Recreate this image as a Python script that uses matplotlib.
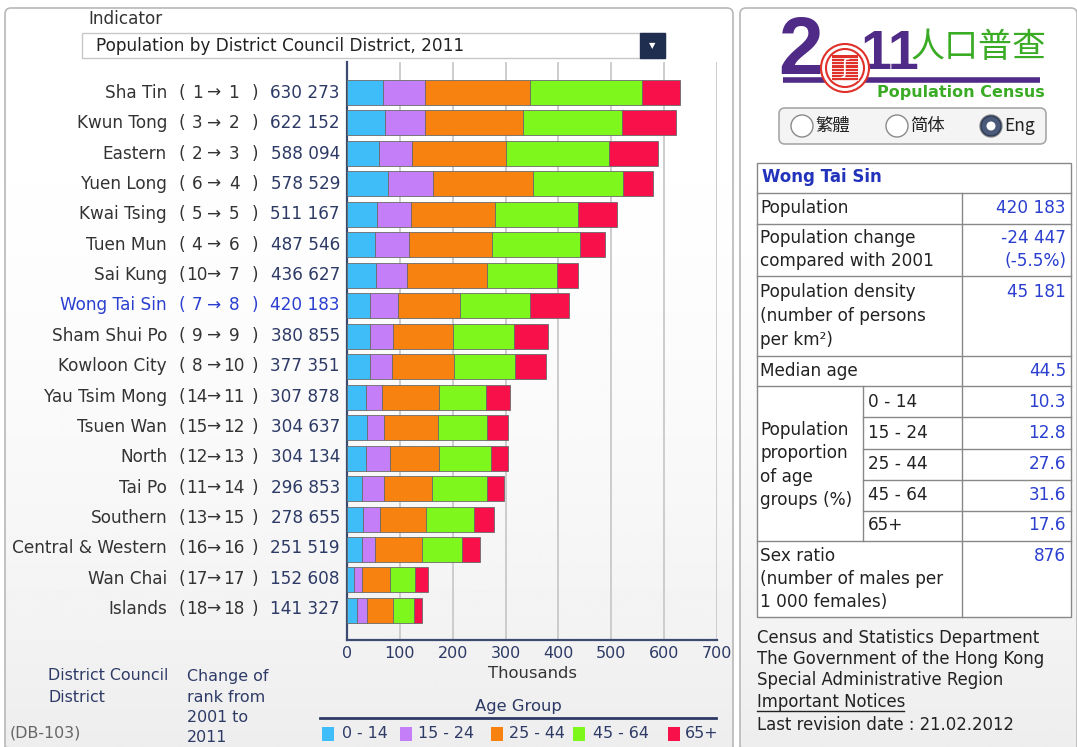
import numpy as np
import matplotlib.pyplot as plt
from matplotlib.patches import FancyBboxPatch, Rectangle, Circle

# chart data (age group values in thousands)
districts = ["Sha Tin", "Kwun Tong", "Eastern", "Yuen Long", "Kwai Tsing", "Tuen Mun",
             "Sai Kung", "Wong Tai Sin", "Sham Shui Po", "Kowloon City", "Yau Tsim Mong",
             "Tsuen Wan", "North", "Tai Po", "Southern", "Central & Western", "Wan Chai", "Islands"]
rank_2001 = [1, 3, 2, 6, 5, 4, 10, 7, 9, 8, 14, 15, 12, 11, 13, 16, 17, 18]
rank_2011 = [1, 2, 3, 4, 5, 6, 7, 8, 9, 10, 11, 12, 13, 14, 15, 16, 17, 18]
population = [630273, 622152, 588094, 578529, 511167, 487546, 436627, 420183, 380855,
              377351, 307878, 304637, 304134, 296853, 278655, 251519, 152608, 141327]
age_0_14 = [67.5, 72.0, 60.6, 77.0, 56.3, 52.5, 54.4, 43.3, 42.6, 42.6, 36.2, 37.5, 36.2, 28.1, 29.5, 28.1, 13.7, 18.8]
age_15_24 = [79.5, 75.0, 63.2, 85.0, 65.7, 65.1, 58.2, 53.8, 43.7, 41.8, 29.5, 33.2, 45.0, 42.6, 33.0, 25.0, 14.4, 18.7]
age_25_44 = [199.5, 186.5, 177.5, 189.7, 158.0, 157.2, 152.0, 116.0, 113.8, 118.9, 108.0, 100.8, 93.6, 91.0, 87.7, 88.3, 52.6, 48.7]
age_45_64 = [211.5, 186.5, 194.3, 171.1, 156.2, 165.4, 133.2, 132.8, 115.0, 114.6, 89.9, 93.8, 97.4, 102.8, 90.4, 75.5, 47.5, 41.4]
age_65_plus = [72.0, 102.0, 92.5, 55.7, 75.0, 47.4, 38.8, 74.0, 65.7, 59.5, 44.3, 39.3, 31.9, 32.4, 38.1, 34.6, 24.4, 13.7]
age_groups = ["0 - 14", "15 - 24", "25 - 44", "45 - 64", "65+"]
colors = ["#3fbdf8", "#c47ef8", "#f8820f", "#7ef81c", "#f8104a"]
x_ticks = [0, 100, 200, 300, 400, 500, 600, 700]

# side panel data (selected district)
selected = "Wong Tai Sin"
sel_population = "420 183"
sel_change = "-24 447"
sel_change_pct = "(-5.5%)"
sel_density = "45 181"
sel_median_age = "44.5"
sel_proportions = ["10.3", "12.8", "27.6", "31.6", "17.6"]
sel_sex_ratio = "876"

TXT = "#333333"
NAVY = "#2d3a66"
BLUE = "#2a3fd0"
FS = 12.2
CJK = ["Noto Sans CJK TC", "DejaVu Sans"]
NARROW = ["Liberation Sans Narrow", "Liberation Sans", "DejaVu Sans"]

fig = plt.figure(figsize=(10.77, 7.47), dpi=100)
bg = fig.add_axes([0, 0, 1, 1])
bg.set_xlim(0, 1077)
bg.set_ylim(747, 0)
bg.axis("off")

# panels with soft gradient
grad = np.linspace(0, 1, 256).reshape(-1, 1)
for x0, x1 in [(5, 733), (740, 1077)]:
    panel = FancyBboxPatch((x0, 8), x1 - x0, 745, boxstyle="round,pad=0,rounding_size=6",
                           fc="none", ec="#b8b8b8", lw=1.2, zorder=2)
    bg.add_patch(panel)
    im = bg.imshow(1 - 0.07 * grad ** 2, cmap="gray", vmin=0, vmax=1, aspect="auto",
                   extent=(x0, x1, 753, 8), zorder=1)
    im.set_clip_path(panel)

# indicator dropdown
bg.text(88, 19, "Indicator", fontsize=FS, color=TXT, va="center")
bg.add_patch(Rectangle((82, 33), 583, 25, fc="white", ec="#c8c8c8", lw=1, zorder=3))
bg.add_patch(Rectangle((640, 33), 25, 25, fc="#1f2d4f", ec="#1f2d4f", zorder=4))
bg.text(652.5, 45.5, "▼", fontsize=6, color="white", ha="center", va="center", zorder=5)
bg.text(96, 46, "Population by District Council District, 2011", fontsize=FS,
        color="#222222", va="center", zorder=5)

# bar chart
ax = fig.add_axes([347 / 1077, 1 - 640 / 747, 370 / 1077, 578 / 747])
ax.set_facecolor("none")
y = np.arange(len(districts))
left = np.zeros(len(districts))
for vals, c in zip([age_0_14, age_15_24, age_25_44, age_45_64, age_65_plus], colors):
    ax.barh(y, vals, left=left, height=0.82, color=c, edgecolor="#6a6a6a", linewidth=0.6, zorder=3)
    left += np.array(vals)
ax.set_xlim(0, 700)
ax.set_ylim(17.97, -1.0)
ax.set_xticks(x_ticks)
ax.set_yticks([])
ax.grid(axis="x", color="#c9c9c9", lw=1.3, zorder=0)
ax.tick_params(axis="x", length=0, labelsize=11.5, labelcolor=NAVY, pad=4)
for s in ["top", "right"]:
    ax.spines[s].set_visible(False)
for s in ["left", "bottom"]:
    ax.spines[s].set_color("#3a4a70")
    ax.spines[s].set_linewidth(1.6)
ax.set_xlabel("Thousands", fontsize=11.8, color=TXT, labelpad=4)

# row labels
row_y = 93 + np.arange(len(districts)) * 30.35
for i, name in enumerate(districts):
    c = BLUE if name == selected else TXT
    yy = row_y[i]
    bg.text(167, yy, name, fontsize=FS, color=c, ha="right", va="center")
    bg.text(182, yy, "(", fontsize=FS, color=c, ha="center", va="center")
    bg.text(197, yy, str(rank_2001[i]), fontsize=FS, color=c, ha="center", va="center")
    bg.text(214, yy, "→", fontsize=FS, color=c, ha="center", va="center")
    bg.text(234, yy, str(rank_2011[i]), fontsize=FS, color=c, ha="center", va="center")
    bg.text(255, yy, ")", fontsize=FS, color=c, ha="center", va="center")
    bg.text(340, yy, f"{population[i]:,}".replace(",", " "), fontsize=FS,
            color=BLUE if name == selected else NAVY, ha="right", va="center")

# bottom left captions
for yy, t in zip([676, 697], ["District Council", "District"]):
    bg.text(48, yy, t, fontsize=11.4, color=NAVY, va="center")
for yy, t in zip([676, 697, 717, 738], ["Change of", "rank from", "2001 to", "2011"]):
    bg.text(187, yy, t, fontsize=11.4, color=NAVY, va="center")
bg.text(10, 733, "(DB-103)", fontsize=11.4, color="#666666", va="center")

# legend
bg.text(518, 706, "Age Group", fontsize=11.8, color=NAVY, ha="center", va="center")
bg.plot([320, 716], [718, 718], color="#2d3a66", lw=2)
leg_sq = [322, 400, 491, 573, 668]
leg_tx = [342, 418, 509, 593, 685]
for sx, tx, lab, c in zip(leg_sq, leg_tx, age_groups, colors):
    bg.add_patch(Rectangle((sx, 727), 12, 14, fc=c, ec="none", zorder=3))
    bg.text(tx, 734, lab, fontsize=11.4, color=NAVY, va="center")

# logo
PURPLE = "#4f2a86"
GREEN = "#3aab25"
RED = "#e0302a"
bg.plot([783, 1040], [80, 80], color=PURPLE, lw=4, solid_capstyle="butt", zorder=2)
bg.text(801, 53, "2", fontsize=58, fontweight="bold", color=PURPLE, ha="center",
        va="center", family=NARROW, zorder=3)
bg.add_patch(Circle((845, 68), 24, fc="white", ec=RED, lw=1.5, zorder=4))
bg.add_patch(Circle((845, 68), 19, fc="none", ec=RED, lw=1.5, zorder=4))
bg.add_patch(Rectangle((832, 55), 26, 26, fc=RED, ec="none", zorder=4))
for sy in np.arange(58, 81, 3.2):
    bg.plot([832, 858], [sy, sy], color="white", lw=0.6, zorder=5)
bg.text(845, 68, "ʃ", fontsize=15, color="white", ha="center", va="center", zorder=6)
bg.text(890, 55, "11", fontsize=40, fontweight="bold", color=PURPLE, ha="center",
        va="center", family=NARROW, zorder=3)
bg.text(979, 47, "人口普查", fontsize=24.5, color=GREEN, ha="center", va="center",
        family=CJK, zorder=3)
bg.text(961, 93, "Population Census", fontsize=11.5, fontweight="bold", color=GREEN,
        ha="center", va="center")

# language selector
bg.add_patch(FancyBboxPatch((779, 108), 267, 36, boxstyle="round,pad=0,rounding_size=6",
                            fc="#f4f4f4", ec="#a8a8a8", lw=1.2, zorder=3))
for cx, lab, on in zip([802, 897, 991], ["繁體", "简体", "Eng"], [False, False, True]):
    bg.add_patch(Circle((cx, 126), 11, fc="white", ec="#8a8a8a", lw=1, zorder=4))
    if on:
        bg.add_patch(Circle((cx, 126), 10, fc="#4a5a78", ec="#2d3a55", lw=1, zorder=5))
        bg.add_patch(Circle((cx, 126), 4.5, fc="white", ec="none", zorder=6))
    bg.text(cx + 13, 126, lab, fontsize=12.5, color="#222222", va="center", family=CJK, zorder=6)

# info table
bg.add_patch(Rectangle((757, 163), 314, 454, fc="white", ec="#888888", lw=1, zorder=3))
for yy, x0 in [(193, 757), (224, 757), (276, 757), (356, 757), (386, 757), (417, 863),
               (449, 863), (480, 863), (511, 863), (541, 757)]:
    bg.plot([x0, 1071], [yy, yy], color="#888888", lw=1, zorder=4)
bg.plot([962, 962], [193, 617], color="#888888", lw=1, zorder=4)
bg.plot([863, 863], [386, 541], color="#888888", lw=1, zorder=4)
bg.text(762, 177, selected, fontsize=12, fontweight="bold", color="#2233bb", va="center", zorder=5)

rows = [(208, "Population"),
        (238, "Population change"), (261, "compared with 2001"),
        (292, "Population density"), (316, "(number of persons"), (340, "per km²)"),
        (371, "Median age"),
        (430, "Population"), (453, "proportion"), (477, "of age"), (500, "groups (%)"),
        (556, "Sex ratio"), (579, "(number of males per"), (602, "1 000 females)")]
for yy, t in rows:
    bg.text(760, yy, t, fontsize=FS, color="#222222", va="center", zorder=5)
sub_y = [402, 433, 464, 495, 525]
for yy, lab in zip(sub_y, age_groups):
    bg.text(868, yy, lab, fontsize=FS, color="#222222", va="center", zorder=5)
values = [(208, sel_population), (238, sel_change), (261, sel_change_pct),
          (292, sel_density), (371, sel_median_age), (556, sel_sex_ratio)]
values += list(zip(sub_y, sel_proportions))
for yy, v in values:
    bg.text(1066, yy, v, fontsize=FS, color=BLUE, ha="right", va="center", zorder=5)

# footer
for yy, t in zip([638, 659, 680, 725], ["Census and Statistics Department",
                                        "The Government of the Hong Kong",
                                        "Special Administrative Region",
                                        "Last revision date : 21.02.2012"]):
    bg.text(757, yy, t, fontsize=11.9, color="#222222", va="center")
bg.text(757, 702, "Important Notices", fontsize=11.9, color="#222222", va="center")
bg.plot([757, 904], [711, 711], color="#222222", lw=1)

fig.savefig("out.png", dpi=100)
